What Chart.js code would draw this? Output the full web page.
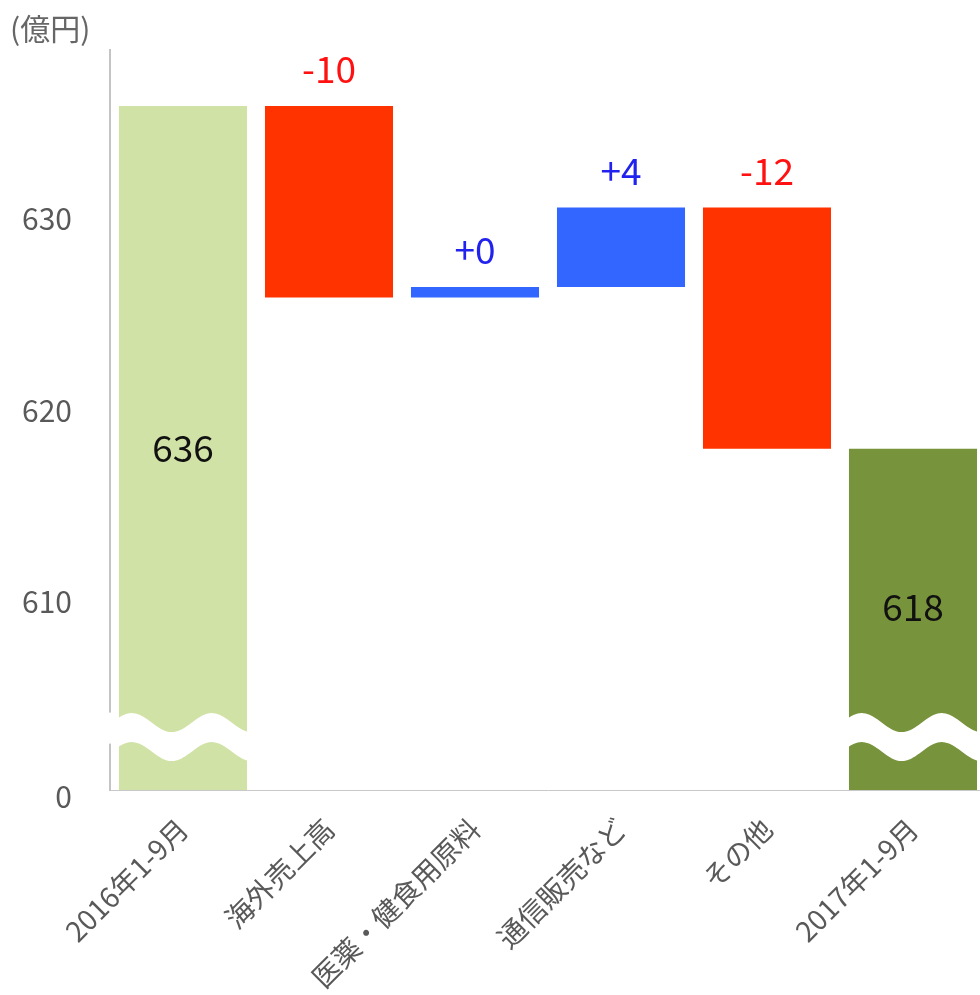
<!DOCTYPE html>
<html>
<head>
<meta charset="utf-8">
<script src="https://cdn.jsdelivr.net/npm/chart.js@4.4.1/dist/chart.umd.min.js"></script>
<style>
  html, body { margin: 0; padding: 0; background: #fff; overflow: hidden; }
  #wrap { position: relative; width: 990px; height: 995px; }
  #unit { position: absolute; left: 10px; top: 12px; font: 30px/30px "Noto Sans CJK JP", sans-serif; color: #666; }
</style>
</head>
<body>
<div id="wrap">
  <div id="unit">(億円)</div>
  <canvas id="c" width="990" height="995"></canvas>
</div>
<script>
// 売上の増減（億円）
const categories = ['2016年1-9月', '海外売上高', '医薬・健食用原料', '通信販売など', 'その他', '2017年1-9月'];
const yMin = 600.18;   // 軸の切れ目（"0" 表示）
const yMax = 638.83;
const barLow  = [yMin,  625.9, 625.9,  626.45, 618.0, yMin];
const barHigh = [635.9, 635.9, 626.45, 630.6,  630.6, 618.0];
const valueLabels = ['636', '-10', '+0', '+4', '-12', '618'];
const tickValues = [599.84, 610, 620, 630];
const tickLabels = ['0', '610', '620', '630'];
const brokenBars = [0, 5];
const breakValue = 603.7;

const barColors = ['#d0e2a6', '#ff3300', '#3366ff', '#3366ff', '#ff3300', '#77933c'];
const labelColors = ['#111', '#ff1111', '#2222ee', '#2222ee', '#ff1111', '#111'];
const FONT = '"Noto Sans CJK JP", sans-serif';

// 波線（軸の省略）
const breakMarks = {
  id: 'breakMarks',
  afterDatasetsDraw(chart) {
    const ctx = chart.ctx;
    const y = chart.scales.y;
    const meta = chart.getDatasetMeta(0);
    const c = y.getPixelForValue(breakValue);
    const amp = 9.5, period = 80, gap = 29;
    ctx.save();
    ctx.fillStyle = '#fff';
    brokenBars.forEach(i => {
      const bar = meta.data[i];
      const x0 = bar.x - bar.width / 2 - 1, x1 = bar.x + bar.width / 2 + 1;
      const trough = x0 + bar.width * 0.42;
      const edge = x => c + amp * Math.cos(2 * Math.PI * (x - trough) / period);
      ctx.beginPath();
      ctx.moveTo(x0, edge(x0));
      for (let x = x0; x <= x1; x++) ctx.lineTo(x, edge(x));
      for (let x = x1; x >= x0; x--) ctx.lineTo(x, edge(x) + gap);
      ctx.closePath();
      ctx.fill();
    });
    // y軸の切れ目
    const left = chart.chartArea.left;
    ctx.fillRect(left - 3, c - 10, 6, 31);
    ctx.restore();
  }
};

// 値ラベル
const valueTags = {
  id: 'valueTags',
  afterDatasetsDraw(chart) {
    const ctx = chart.ctx;
    const meta = chart.getDatasetMeta(0);
    ctx.save();
    ctx.font = '37px ' + FONT;
    ctx.textAlign = 'center';
    ctx.textBaseline = 'middle';
    meta.data.forEach((bar, i) => {
      const top = Math.min(bar.y, bar.base);
      const bottom = Math.max(bar.y, bar.base);
      const ty = brokenBars.includes(i) ? (top + bottom) / 2 - (i === 5 ? 12 : 0) : top - 37;
      ctx.fillStyle = labelColors[i];
      ctx.fillText(valueLabels[i], bar.x, ty);
    });
    ctx.restore();
  }
};

new Chart(document.getElementById('c'), {
  type: 'bar',
  data: {
    labels: categories,
    datasets: [{
      data: barLow.map((lo, i) => [lo, barHigh[i]]),
      backgroundColor: barColors,
      borderWidth: 0,
      borderSkipped: false,
      barPercentage: 0.877,
      categoryPercentage: 1
    }]
  },
  options: {
    responsive: false,
    devicePixelRatio: 1,
    animation: false,
    layout: { padding: { top: 50, right: 4, left: 0, bottom: 0 } },
    plugins: {
      legend: { display: false },
      tooltip: { enabled: false }
    },
    scales: {
      x: {
        grid: { display: false, drawTicks: false },
        border: { display: true, color: '#c8c8c8', width: 1, dash: [2, 2] },
        ticks: {
          color: '#595959',
          font: { size: 28, family: FONT },
          minRotation: 45,
          maxRotation: 45,
          autoSkip: false,
          padding: 22
        },
        afterFit(s) { s.height = 205; }
      },
      y: {
        min: yMin,
        max: yMax,
        grid: { display: false, drawTicks: false },
        border: { display: true, color: '#c4c4c4', width: 2 },
        ticks: {
          color: '#595959',
          font: { size: 30, family: FONT },
          padding: 38,
          callback: (v, i) => tickLabels[i]
        },
        afterBuildTicks(s) { s.ticks = tickValues.map(v => ({ value: v })); },
        afterFit(s) {
          s.width = 110;
          s.paddingTop = 0;
          s.paddingBottom = 0;
        }
      }
    }
  },
  plugins: [breakMarks, valueTags]
});
</script>
</body>
</html>
